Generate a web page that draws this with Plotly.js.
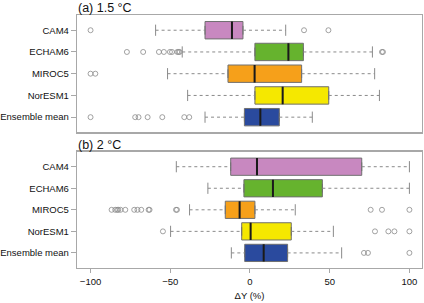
<!DOCTYPE html>
<html>
<head>
<meta charset="utf-8">
<script src="https://cdn.plot.ly/plotly-3.0.1.min.js"></script>
<style>html,body{margin:0;padding:0;background:#fff;}#chart{width:424px;height:303px;}</style>
</head>
<body>
<div id="chart"></div>
<script>
var models = ["CAM4", "ECHAM6", "MIROC5", "NorESM1", "Ensemble mean"];
var colors = ["#C888C0", "#66B32E", "#F6A01A", "#F5E800", "#2A4A9E"];
var xTicks = [-100, -50, 0, 50, 100];
var xTickText = ["\u2212100", "\u221250", "0", "50", "100"];

// Panel (a) 1.5 °C
var a_lo  = [-59.2, -42.5, -51.7, -39.1, -28.2];
var a_q1  = [-28.2,   3.1, -13.8,   3.1,  -3.5];
var a_med = [-11.3,  24.1,   2.9,  20.5,   6.5];
var a_q3  = [ -4.4,  33.5,  32.4,  49.4,  18.4];
var a_hi  = [ 22.4,  76.8,  78.2,  81.2,  39.1];
var a_out = [
  [-100, 33.9, 49.2],
  [-77.2, -67, -57.1, -54, -50.2, -48.9, -45.6, -44.8, -44.1, 82.8, 83.4],
  [-100, -97],
  [],
  [-100, -72, -69.9, -64.2, -55, -41.2, -38.1]
];

// Panel (b) 2 °C
var b_lo  = [-46.2, -26.4, -37.9, -49.8, -11.7];
var b_q1  = [-12.1,  -3.8, -15.5,  -5.2,  -3.3];
var b_med = [  4.4,  14.4,  -6.5,   0.4,   8.6];
var b_q3  = [ 70.1,  45.4,   3.1,  25.9,  23.6];
var b_hi  = [100,   100,    28.4,  52.3,  57.5];
var b_out = [
  [],
  [],
  [-86.8, -84.5, -83.3, -82.6, -81.2, -78.2, -72.6, -70.6, -68.2, -63.6, -63.0, -46.4, -45.8, 75.7, 82.8, 100],
  [-54.6, 78.4, 86.8, 90.6, 100],
  [71.5, 74, 100]
];

var traces = [];
var grey = "#8a8a8a";

function addPanel(lo, q1, med, q3, hi, out, xa, ya) {
  for (var i = 0; i < models.length; i++) {
    var pos = i + 1;
    traces.push({
      type: "scatter", mode: "lines", xaxis: xa, yaxis: ya, hoverinfo: "skip",
      x: [lo[i], q1[i], null, q3[i], hi[i]],
      y: [pos, pos, null, pos, pos],
      line: {color: grey, width: 1, dash: "dot"}, showlegend: false
    });
    traces.push({
      type: "scatter", mode: "markers", xaxis: xa, yaxis: ya, hoverinfo: "skip",
      x: [lo[i], hi[i]], y: [pos, pos],
      marker: {symbol: "line-ns", size: 8, line: {color: grey, width: 1}},
      showlegend: false
    });
    traces.push({
      type: "box", orientation: "h", xaxis: xa, yaxis: ya,
      y: [pos], q1: [q1[i]], median: [med[i]], q3: [q3[i]],
      lowerfence: [q1[i]], upperfence: [q3[i]],
      width: 0.8, fillcolor: colors[i],
      line: {color: "#707070", width: 1},
      boxpoints: false, showlegend: false, hoverinfo: "skip"
    });
    traces.push({
      type: "scatter", mode: "lines", xaxis: xa, yaxis: ya, hoverinfo: "skip",
      x: [med[i], med[i]], y: [pos - 0.4, pos + 0.4],
      line: {color: "#1a1a1a", width: 2}, showlegend: false
    });
    if (out[i].length) {
      traces.push({
        type: "scatter", mode: "markers", xaxis: xa, yaxis: ya, hoverinfo: "skip",
        x: out[i], y: out[i].map(function () { return pos; }),
        marker: {symbol: "circle-open", size: 5, color: grey, line: {color: grey, width: 0.8}},
        showlegend: false
      });
    }
  }
}

addPanel(a_lo, a_q1, a_med, a_q3, a_hi, a_out, "x", "y");
addPanel(b_lo, b_q1, b_med, b_q3, b_hi, b_out, "x2", "y2");

var fontFam = "Liberation Sans, Arial, Helvetica, sans-serif";
var frame = "#a8a8a8";
var yBase = {
  range: [5.7, 0.3], tickvals: [1, 2, 3, 4, 5], ticktext: models,
  ticks: "outside", ticklen: 5, tickcolor: frame, tickwidth: 1,
  showline: true, mirror: true, linecolor: frame, linewidth: 1.2,
  showgrid: false, zeroline: false, fixedrange: true,
  tickfont: {family: fontFam, size: 9.5, color: "#111"}
};
var xBase = {
  range: [-108.5, 107.9], tickvals: xTicks, ticktext: xTickText,
  showline: true, mirror: true, linecolor: frame, linewidth: 1.2,
  showgrid: false, zeroline: false, fixedrange: true,
  tickfont: {family: fontFam, size: 9.5, color: "#111"}
};

var layout = {
  width: 424, height: 303,
  margin: {l: 77, r: 2, t: 15, b: 35},
  paper_bgcolor: "#fff", plot_bgcolor: "#fff",
  font: {family: fontFam, color: "#111"},
  showlegend: false,
  xaxis: Object.assign({}, xBase, {anchor: "y", showticklabels: false, ticks: ""}),
  yaxis: Object.assign({}, yBase, {domain: [0.536, 1], anchor: "x"}),
  xaxis2: Object.assign({}, xBase, {
    anchor: "y2", ticks: "outside", ticklen: 4, tickcolor: frame,
    title: {text: "\u0394Y (%)", font: {family: fontFam, size: 9.5, color: "#111"}, standoff: 6}
  }),
  yaxis2: Object.assign({}, yBase, {domain: [0, 0.46], anchor: "x2"}),
  annotations: [
    {text: "(a) 1.5 \u00B0C", xref: "paper", yref: "paper", x: 0, y: 1, xanchor: "left", yanchor: "bottom",
     xshift: -1, yshift: -2, showarrow: false, font: {family: fontFam, size: 12.5, color: "#111"}},
    {text: "(b) 2 \u00B0C", xref: "paper", yref: "paper", x: 0, y: 0.46, xanchor: "left", yanchor: "bottom",
     xshift: -1, yshift: -2, showarrow: false, font: {family: fontFam, size: 12.5, color: "#111"}}
  ]
};

Plotly.newPlot("chart", traces, layout, {staticPlot: true, displayModeBar: false});
</script>
</body>
</html>
